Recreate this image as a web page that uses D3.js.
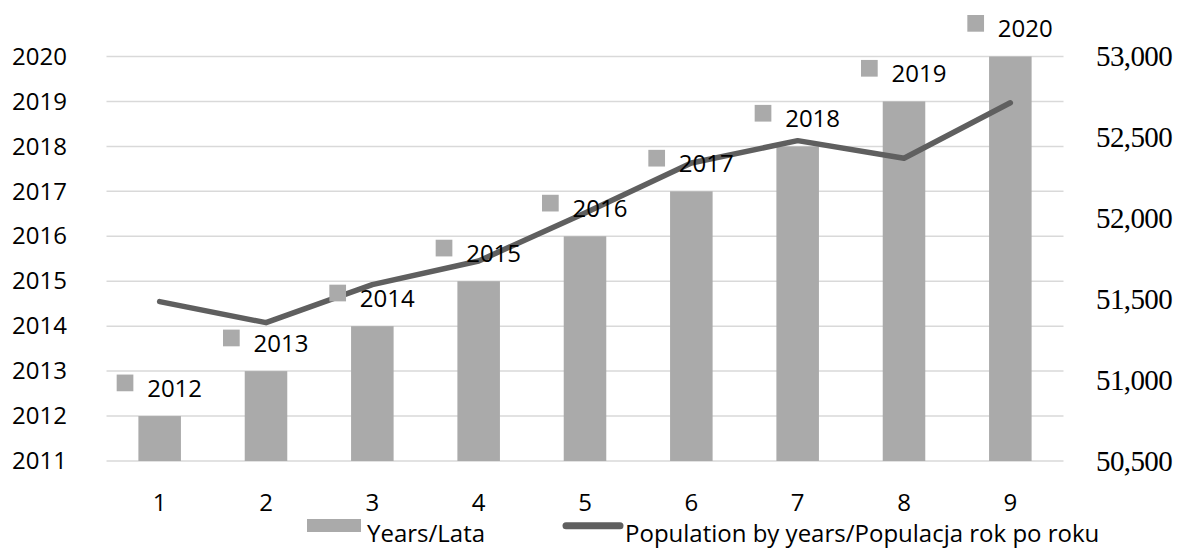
<!DOCTYPE html>
<html>
<head>
<meta charset="utf-8">
<script src="https://cdn.jsdelivr.net/npm/d3@7"></script>
<style>
    html, body { margin: 0; padding: 0; background: #fff; }
    svg { display: block; }
</style>
</head>
<body>
<svg id="chart" width="1182" height="549"></svg>
<script>
// categories on the x axis
const categories = ['1', '2', '3', '4', '5', '6', '7', '8', '9'];
// bar values (left axis)
const years = [2012, 2013, 2014, 2015, 2016, 2017, 2018, 2019, 2020];
// line values (right axis)
const population = [51485, 51355, 51590, 51736, 52033, 52342, 52480, 52371, 52714];
// tick labels
const leftTicks = [2011, 2012, 2013, 2014, 2015, 2016, 2017, 2018, 2019, 2020];
const rightTicks = [50500, 51000, 51500, 52000, 52500, 53000];
// legend labels
const legendLabels = ['Years/Lata', 'Population by years/Populacja rok po roku'];

class comboChart {

    constructor({svg}) {
        this.svg = d3.select(svg);

        // plot area
        this.plot = {left: 106.5, right: 1063.5, top: 56.5, bottom: 461};

        this.barColor = '#aaaaaa';
        this.lineColor = '#5f5f5f';
        this.gridColor = '#d9d9d9';
        this.font = '"Open Sans", "Noto Sans", sans-serif';
    }

    create() {
        this.scaleX = d3.scaleBand().domain(categories).range([this.plot.left, this.plot.right]).padding(0);
        this.scaleY = d3.scaleLinear().domain([2011, 2020]).range([this.plot.bottom, this.plot.top]);
        this.scaleY2 = d3.scaleLinear().domain([50500, 53000]).range([this.plot.bottom, this.plot.top]);

        this._drawGrid();
        this._drawAxisLeft();
        this._drawAxisRight();
        this._drawAxisBottom();
        this._drawBars();
        this._drawLine();
        this._drawLabels();
        this._drawLegend();
    }

    // horizontal grid lines
    _drawGrid() {
        this.svg.append('g')
            .selectAll('line')
            .data(leftTicks)
            .enter().append('line')
            .attr('x1', this.plot.left)
            .attr('x2', this.plot.right)
            .attr('y1', d => this.scaleY(d))
            .attr('y2', d => this.scaleY(d))
            .attr('stroke', this.gridColor)
            .attr('stroke-width', 1.5);
    }

    _drawAxisLeft() {
        const g = this.svg.append('g')
            .attr('transform', 'translate(67,0)')
            .call(d3.axisLeft(this.scaleY).tickValues(leftTicks).tickFormat(d3.format('d')).tickSize(0).tickPadding(0));
        this._styleAxis(g, this.font, 24);
    }

    _drawAxisRight() {
        const g = this.svg.append('g')
            .attr('transform', 'translate(1096,0)')
            .call(d3.axisRight(this.scaleY2).tickValues(rightTicks).tickFormat(d3.format(',')).tickSize(0).tickPadding(0));
        this._styleAxis(g, '"Liberation Serif", "Times New Roman", serif', 29);
        g.selectAll('text').attr('letter-spacing', -0.6);
    }

    _drawAxisBottom() {
        const g = this.svg.append('g')
            .attr('transform', `translate(0,${this.plot.bottom})`)
            .call(d3.axisBottom(this.scaleX).tickSize(0).tickPadding(33));
        this._styleAxis(g, this.font, 24);
    }

    _styleAxis(g, font, size) {
        g.select('.domain').remove();
        g.selectAll('text')
            .attr('fill', '#000')
            .style('font-family', font)
            .style('font-size', size + 'px');
    }

    // bars start at 2011
    _drawBars() {
        const step = this.scaleX.step();
        this.svg.append('g')
            .selectAll('rect')
            .data(years)
            .enter().append('rect')
            .attr('fill', this.barColor)
            .attr('x', (d, i) => this.scaleX(categories[i]) + step * 0.3)
            .attr('width', step * 0.4)
            .attr('y', d => this.scaleY(d))
            .attr('height', d => this.scaleY(2011) - this.scaleY(d));
    }

    _drawLine() {
        const line = d3.line()
            .x((d, i) => this.scaleX(categories[i]) + this.scaleX.bandwidth() / 2)
            .y(d => this.scaleY2(d));
        this.svg.append('path')
            .datum(population)
            .attr('d', line)
            .attr('fill', 'none')
            .attr('stroke', this.lineColor)
            .attr('stroke-width', 5.5)
            .attr('stroke-linejoin', 'round')
            .attr('stroke-linecap', 'round');
    }

    // data labels: small square + year above each bar
    _drawLabels() {
        const half = this.scaleX.bandwidth() / 2;
        const g = this.svg.append('g')
            .selectAll('g')
            .data(years)
            .enter().append('g')
            .attr('transform', (d, i) => `translate(${this.scaleX(categories[i]) + half},${this.scaleY(d)})`);
        g.append('rect')
            .attr('x', -43)
            .attr('y', -41.5)
            .attr('width', 16.7)
            .attr('height', 16.7)
            .attr('fill', this.barColor);
        g.append('text')
            .attr('x', -12.5)
            .attr('y', -19.5)
            .text(d => d)
            .style('font-family', this.font)
            .style('font-size', '24px')
            .attr('fill', '#000');
    }

    _drawLegend() {
        const g = this.svg.append('g');
        g.append('rect')
            .attr('x', 307).attr('y', 519)
            .attr('width', 54).attr('height', 13)
            .attr('fill', this.barColor);
        g.append('line')
            .attr('x1', 566).attr('x2', 620)
            .attr('y1', 525.7).attr('y2', 525.7)
            .attr('stroke', this.lineColor)
            .attr('stroke-width', 7)
            .attr('stroke-linecap', 'round');
        g.selectAll('text')
            .data(legendLabels)
            .enter().append('text')
            .attr('x', (d, i) => i ? 625 : 367)
            .attr('y', 542)
            .text(d => d)
            .style('font-family', this.font)
            .style('font-size', '24px')
            .attr('fill', '#000');
    }
}

new comboChart({svg: document.getElementById('chart')}).create();
</script>
</body>
</html>
